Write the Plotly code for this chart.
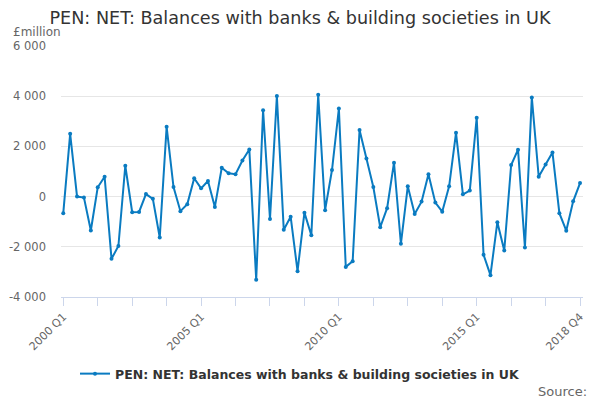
import plotly.graph_objects as go

quarters = [f"{y} Q{q}" for y in range(2000, 2019) for q in range(1, 5)]

values = [-660, 2500, 0, -40, -1350, 370, 790, -2480, -1970, 1230,
          -620, -610, 100, -90, -1630, 2780, 380, -580, -300, 730,
          330, 620, -410, 1150, 930, 890, 1440, 1880, -3310, 3440,
          -890, 4010, -1320, -800, -2970, -640, -1540, 4060, -540, 1060,
          3510, -2800, -2580, 2650, 1520, 380, -1220, -460, 1350, -1880,
          410, -690, -200, 890, -240, -600, 410, 2540, 90, 240,
          3140, -2320, -3130, -1020, -2150, 1260, 1870, -2030, 3950, 790,
          1280, 1760, -660, -1360, -190, 540]

y_ticks = [-4000, -2000, 0, 2000, 4000, 6000]
y_labels = ["-4 000", "-2 000", "0", "2 000", "4 000", "6 000"]

x_tickvals = quarters[::5]
x_labels = {"2000 Q1", "2005 Q1", "2010 Q1", "2015 Q1", "2018 Q4"}
x_ticktext = [q if q in x_labels else "" for q in x_tickvals]

series_name = "PEN: NET: Balances with banks & building societies in UK"

fig = go.Figure()
fig.add_trace(go.Scatter(
    x=quarters, y=values, mode="lines+markers", name=series_name,
    line=dict(color="#0a7bc1", width=2),
    marker=dict(size=4, color="#0a7bc1"),
))

fig.update_layout(
    width=600, height=400,
    paper_bgcolor="white", plot_bgcolor="white",
    font=dict(family="DejaVu Sans", color="#666666"),
    margin=dict(l=61, r=17, t=46, b=103, autoexpand=False),
    title=dict(text=series_name, x=0.5, xanchor="center", y=0.955, yanchor="middle",
               font=dict(size=17.6, color="#333333")),
    showlegend=True,
    legend=dict(orientation="h", x=0.5, xanchor="center", xref="container",
                y=0.065, yanchor="middle", yref="container",
                font=dict(size=12.5, color="#333333", weight="bold")),
    annotations=[
        dict(text="£million", xref="paper", yref="paper", x=-0.096, y=1.056,
             xanchor="left", yanchor="middle", showarrow=False,
             font=dict(size=12, color="#666666")),
        dict(text="Source:", xref="paper", yref="paper", x=1.011, y=-0.375,
             xanchor="right", yanchor="middle", showarrow=False,
             font=dict(size=13, color="#666666")),
    ],
)

fig.update_xaxes(
    type="category", range=[-0.33, 75.43], automargin=False,
    tickmode="array", tickvals=x_tickvals, ticktext=x_ticktext,
    tickangle=-45, tickfont=dict(size=11, color="#666666"),
    ticks="outside", ticklen=8, tickcolor="#ccd6eb",
    showline=True, linecolor="#ccd6eb", linewidth=1,
    showgrid=False, zeroline=False,
)
fig.update_yaxes(
    range=[-4000, 6000], automargin=False,
    tickmode="array", tickvals=y_ticks, ticktext=y_labels,
    tickfont=dict(size=11.5, color="#666666"), ticklabelstandoff=14,
    showgrid=True, gridcolor="#e6e6e6", zeroline=False,
)

# the page body has an 8px default margin, drop it so the figure sits at 0,0
fig.write_html("out.html", config={"displayModeBar": False},
               post_script="document.body.style.margin='0';")
